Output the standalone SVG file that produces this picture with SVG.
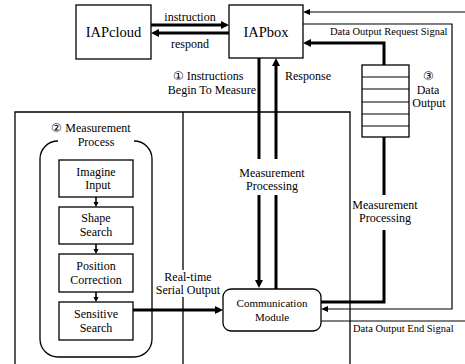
<svg xmlns="http://www.w3.org/2000/svg" width="465" height="364" viewBox="0 0 465 364" font-family="'Liberation Serif', 'Times New Roman', 'DejaVu Serif', serif">
<style>
text{font-size:12px;fill:#000;text-anchor:middle}
.big{font-size:14.5px}
.sm{font-size:10.5px;text-anchor:start}
.cm{font-size:11px}
.box{fill:#fff;stroke:#000;stroke-width:1.3}
.thin{fill:none;stroke:#000;stroke-width:1.2}
.frame{fill:none;stroke:#000;stroke-width:1.3}
.thick{fill:none;stroke:#000;stroke-width:3}
.flow{fill:none;stroke:#000;stroke-width:1.6}
</style>
<defs>
<marker id="ah" markerUnits="userSpaceOnUse" markerWidth="9" markerHeight="9" refX="3" refY="4" orient="auto"><path d="M0,0 L8,4 L0,8 z"/></marker>
<marker id="as" markerUnits="userSpaceOnUse" markerWidth="8" markerHeight="7" refX="2" refY="3" orient="auto"><path d="M0,0 L7,3 L0,6 z"/></marker>
<marker id="at" markerUnits="userSpaceOnUse" markerWidth="6" markerHeight="6" refX="1" refY="2.5" orient="auto"><path d="M0,0 L5,2.5 L0,5 z"/></marker>
</defs>
<rect width="465" height="364" fill="#fff"/>

<!-- frames of the device area -->
<g id="frames">
<path class="frame" d="M15,364 V112 H350 V364"/>
<path class="frame" d="M183,112 V270 M183,297 V364"/>
</g>

<!-- connectors -->
<g id="connectors">
<line class="thick" x1="151" y1="25" x2="224" y2="25" marker-end="url(#ah)"/>
<line class="thick" x1="229" y1="33" x2="156" y2="33" marker-end="url(#ah)"/>
<line class="thin" x1="465" y1="12" x2="308" y2="12" marker-end="url(#as)"/>
<polyline class="thin" points="303,24 452,24 452,309 326,309" marker-end="url(#as)"/>
<line class="thin" x1="321" y1="321" x2="465" y2="321"/>
<polyline class="thick" points="384,65 384,43 308,43" marker-end="url(#ah)"/>
<line class="thick" x1="384" y1="137" x2="384" y2="195"/>
<polyline class="thick" points="384,230 384,302 321,302"/>
<line class="thick" x1="259" y1="58" x2="259" y2="159"/>
<line class="thick" x1="259" y1="195" x2="259" y2="283" marker-end="url(#ah)"/>
<line class="thick" x1="276" y1="289" x2="276" y2="195"/>
<line class="thick" x1="276" y1="159" x2="276" y2="63" marker-end="url(#ah)"/>
<line class="thick" x1="133" y1="310" x2="218" y2="310" marker-end="url(#ah)"/>
<line class="flow" x1="96" y1="197" x2="96" y2="203" marker-end="url(#at)"/>
<line class="flow" x1="96" y1="244" x2="96" y2="250" marker-end="url(#at)"/>
<line class="flow" x1="96" y1="292" x2="96" y2="298" marker-end="url(#at)"/>
</g>

<!-- connector labels -->
<g id="labels">
<text x="190" y="20.5">instruction</text>
<text x="190" y="47.5">respond</text>
<text class="sm" x="330" y="35">Data Output Request Signal</text>
<text class="sm" x="353" y="332">Data Output End Signal</text>
<text x="208" y="80">① Instructions</text>
<text x="212" y="94">Begin To Measure</text>
<text x="308" y="80">Response</text>
<text x="272" y="177">Measurement</text>
<text x="272" y="190">Processing</text>
<text x="385" y="209">Measurement</text>
<text x="385" y="222">Processing</text>
<text x="188" y="281">Real-time</text>
<text x="188" y="294">Serial Output</text>
</g>

<g id="iapcloud">
<rect class="box" x="76" y="5" width="75" height="54"/>
<text class="big" x="113.5" y="37">IAPcloud</text>
</g>

<g id="iapbox">
<rect class="box" x="229" y="5" width="74" height="53"/>
<text class="big" x="266" y="37">IAPbox</text>
</g>

<g id="data-output">
<rect class="box" x="362" y="65" width="47" height="72"/>
<path class="thin" d="M362,77 H409 M362,89 H409 M362,102 H409 M362,114 H409 M362,126 H409"/>
<text x="428" y="80">③</text>
<text x="428" y="94">Data</text>
<text x="429" y="107">Output</text>
</g>

<g id="measurement-process">
<path class="frame" d="M134,141 A18,18 0 0 1 152,159 V339 A18,18 0 0 1 134,357 H58 A18,18 0 0 1 40,339 V159 A18,18 0 0 1 58,141"/>
<text x="91" y="132">② Measurement</text>
<text x="96" y="146">Process</text>
</g>

<g id="imagine-input">
<rect class="box" x="59" y="160" width="74" height="37"/>
<text x="96" y="176">Imagine</text>
<text x="98" y="189">Input</text>
</g>

<g id="shape-search">
<rect class="box" x="59" y="207" width="74" height="37"/>
<text x="96" y="222">Shape</text>
<text x="96" y="236">Search</text>
</g>

<g id="position-correction">
<rect class="box" x="59" y="254" width="74" height="38"/>
<text x="96" y="270">Position</text>
<text x="96" y="284">Correction</text>
</g>

<g id="sensitive-search">
<rect class="box" x="59" y="302" width="74" height="38"/>
<text x="96" y="318">Sensitive</text>
<text x="96" y="332">Search</text>
</g>

<g id="communication-module">
<rect class="box" x="223" y="289" width="98" height="42" rx="8"/>
<text class="cm" x="272" y="307">Communication</text>
<text class="cm" x="272" y="321">Module</text>
</g>
</svg>
